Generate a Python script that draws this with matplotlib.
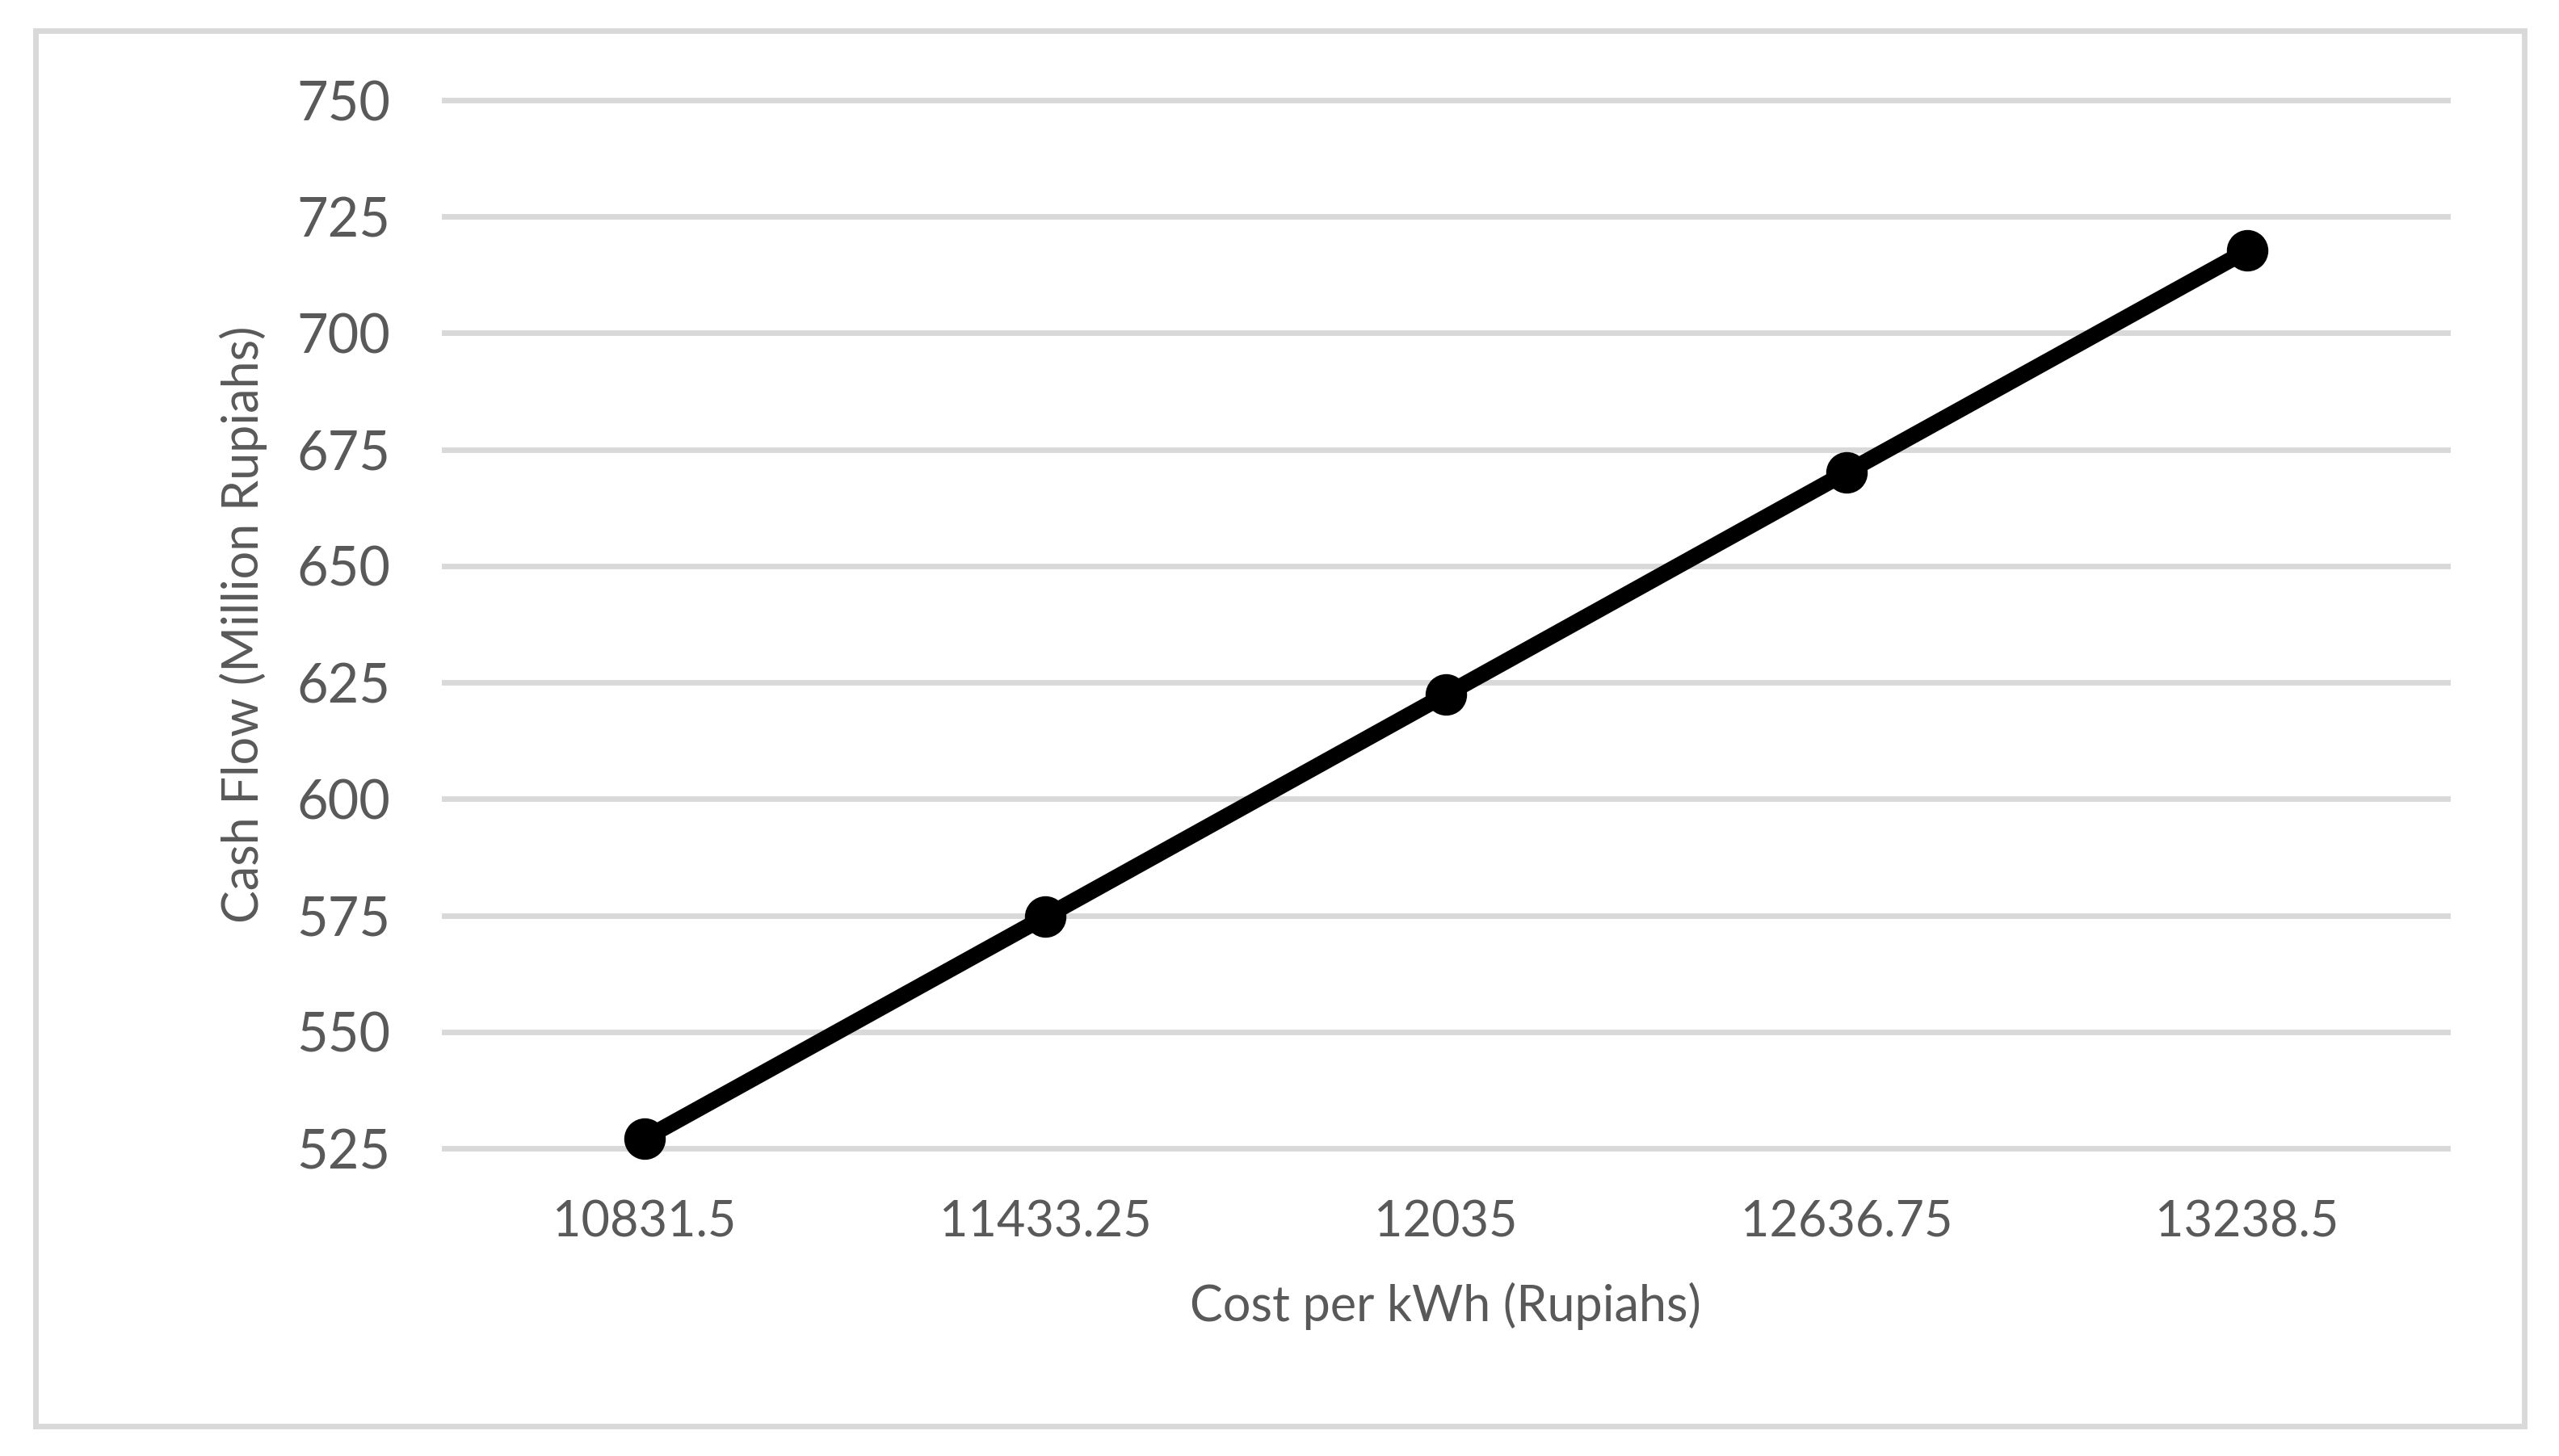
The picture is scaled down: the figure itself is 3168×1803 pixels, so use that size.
import numpy as np
import matplotlib
matplotlib.use('Agg')
import matplotlib.pyplot as plt
from matplotlib.patches import Rectangle

### ---- data ----
cost_labels = ['10831.5', '11433.25', '12035', '12636.75', '13238.5']
cash_flow = [527.1, 574.7, 622.4, 670.1, 717.7]
yticks = np.arange(525, 751, 25)

grey_text = '#595959'
grey_line = '#D9D9D9'


def main():
	plt.rc('font', family=['Lato', 'DejaVu Sans'])
	fig = plt.figure(figsize=(31.68, 18.03), dpi=100)
	ax = fig.add_axes([0.1736, 0.2113, 0.9564 - 0.1736, 0.9312 - 0.2113])

	x = np.arange(len(cost_labels))
	ax.plot(x, cash_flow, 'o-', color='black', linewidth=14.4,
		markersize=36, zorder=3, solid_capstyle='round', clip_on=False)

	ax.set_xlim(-0.5, len(cost_labels) - 0.5)
	ax.set_ylim(yticks[0], yticks[-1])
	ax.set_xticks(x)
	ax.set_xticklabels(cost_labels)
	ax.set_yticks(yticks)

	for s in ax.spines.values():
		s.set_visible(False)
	ax.tick_params(axis='both', length=0, colors=grey_text)
	ax.tick_params(axis='y', labelsize=48, pad=48)
	ax.tick_params(axis='x', labelsize=44, pad=46)
	ax.grid(axis='y', color=grey_line, linewidth=5, zorder=0)
	ax.set_axisbelow(True)
	for gl in ax.get_ygridlines():
		gl.set_clip_on(False)

	ax.set_xlabel('Cost per kWh (Rupiahs)', fontsize=44, color=grey_text, labelpad=32)
	ax.set_ylabel('Cash Flow (Million Rupiahs)', fontsize=44, color=grey_text, labelpad=26)

	# outer chart border
	fig.patches.append(Rectangle((43.5 / 3168, 1 - 1766 / 1803),
		(3124.5 - 43.5) / 3168, (1766 - 37.5) / 1803,
		transform=fig.transFigure, fill=False, edgecolor=grey_line, linewidth=5))

	plt.savefig('out.png', dpi=100)
	plt.close()


if __name__ == '__main__':
	main()
